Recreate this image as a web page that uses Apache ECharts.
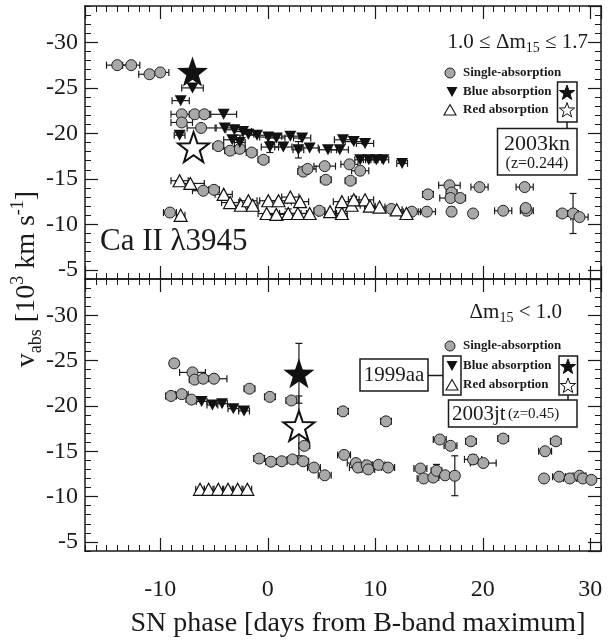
<!DOCTYPE html>
<html><head><meta charset="utf-8">
<script src="https://cdn.jsdelivr.net/npm/echarts@6/dist/echarts.min.js"></script>
<style>html,body{margin:0;padding:0;background:#fff}#c{width:611px;height:641px}</style>
</head><body><div id="c"></div>
<script>
// ---- data: [phase (days), v_abs (10^3 km/s), x error, y error] ----
const xRange = [-17, 31];
const yRange = [-34, -4];

const topSingle = [
  [-14.0,-27.5,1.0],[-12.7,-27.5,0.8],[-11.0,-26.5,1.0],[-10.0,-26.7,0.8],
  [-8.0,-22.1,1.0],[-6.8,-22.1,0.5],[-5.9,-22.1,0.5],[-8.0,-21.2,1.0],[-6.2,-20.6,1.3],
  [-4.6,-18.6,0.5],[-3.5,-18.1,0.5],[-2.6,-18.3,0.5],[-1.5,-17.9,0.5],[-0.4,-17.1,0.5],
  [3.3,-15.8,0.5],[3.7,-16.1,0.8],[5.3,-16.4,1.0],[5.4,-14.9,0.5],[7.6,-16.6,0.8],
  [7.7,-14.8,0.5],[8.6,-15.9,0.8],
  [-9.1,-11.3,0.6],[-6.0,-13.7,1.0],[-5.0,-13.8,0.5],[4.8,-11.5,0.5],
  [11.5,-11.7,0.5],[13.4,-11.4,0.8],[14.8,-11.4,0.8],[14.9,-13.3,0.5],
  [16.9,-14.3,1.0],[17.1,-13.5,0.5],[17.0,-12.9,1.0],[17.9,-12.9,0.5],[19.7,-14.1,0.8],
  [23.9,-14.1,0.8],[17.1,-11.4,0.3,0.5],[19.1,-11.2,0.4],[21.9,-11.5,0.8],[24.1,-11.5,0.6],
  [24.0,-11.8,0.4],[27.4,-11.2,0.5],[28.4,-11.2,0.5,2.2],[29.0,-10.8,0.8]
];
const topBlue = [
  [-7.0,-25.0,1.0],[-8.1,-23.6,0.8],[-4.1,-22.1,1.2],[-8.2,-19.8,0.5],
  [-4.0,-20.6,0.8],[-3.1,-20.4,0.8],[-2.3,-20.2,0.8],[-1.8,-19.9,0.5],[-3.3,-19.3,0.8],
  [-2.6,-19.0,0.5,0.8],[-1.0,-19.8,0.8],[0.05,-19.6,0.8],[0.8,-19.5,0.8],[2.1,-19.7,0.8],
  [3.2,-19.5,0.8],[0.2,-18.5,0.8,0.6],[1.45,-18.5,0.8],[2.85,-18.2,0.5,0.9],[3.9,-18.4,0.8],
  [5.6,-18.2,0.8],[6.7,-18.2,0.8],[7.0,-19.3,0.8],[8.0,-19.1,0.8],[9.05,-18.9,0.8],
  [8.6,-17.1,0.5],[9.4,-17.1,0.5],[10.1,-17.1,0.5],[10.75,-17.1,0.5],[12.5,-16.7,0.5]
];
const topRed = [
  [-8.2,-14.8,0.8],[-7.2,-14.5,1.3],[-8.1,-11.0,0.4],
  [-4.1,-13.3,0.8],[-3.5,-12.4,0.8],[-2.5,-12.1,0.8],[-1.8,-12.6,0.8],[-1.4,-12.1,0.5],
  [0.05,-12.6,0.8],[1.0,-12.6,0.8],[2.1,-13.0,0.8],[3.0,-12.5,0.8],
  [-0.1,-11.2,0.8],[0.8,-11.1,0.8],[1.9,-11.2,0.8,0.5],[2.8,-11.2,0.8],[3.9,-11.2,0.8],
  [5.8,-11.4,0.5],[6.9,-11.2,0.5],[6.9,-12.5,0.8],[7.8,-12.1,0.8],[8.0,-12.7,0.5,0.4],
  [9.05,-12.7,0.8],[9.5,-12.0,0.5],[10.4,-11.9,0.5],[12.0,-11.6,0.5],[12.9,-11.2,0.5]
];
const topStarBlue = [[-7.0,-26.8]];
const topStarRed = [[-6.9,-18.5]];

const botSingle = [
  [-8.7,-24.7,0.4],[-7.0,-23.7,1.2],[-6.8,-22.9,0.5],[-6.0,-23.0,0.5],[-5.0,-23.0,1.2],
  [-9.0,-21.1,0.5],[-8.0,-21.3,0.6],[-7.1,-20.7,0.5],[-1.7,-21.9,0.5],[0.2,-21.0,0.5],
  [2.2,-20.6,0.5],[-0.8,-14.2,0.5],[0.3,-13.85,0.5],[1.3,-13.9,0.5],[2.3,-14.1,0.5],
  [3.3,-13.9,0.5],[3.4,-15.6,0.5],[4.3,-13.2,0.6],[5.3,-12.35,0.6],[7.0,-19.4,0.5],
  [11.0,-18.3,0.5],[7.1,-14.6,0.6],[8.2,-13.7,0.8],[8.4,-13.2,0.8],[9.2,-13.45,0.6],
  [9.35,-13.0,0.6],[10.3,-13.5,0.6],[11.2,-13.2,0.6],[16.0,-16.3,0.6],[17.0,-15.6,0.6],
  [18.9,-16.1,0.5],[21.9,-16.4,0.5],[26.8,-16.1,0.5],[25.8,-15.0,0.6],[14.2,-13.1,0.6],
  [14.5,-12.0,0.6],[15.4,-12.1,0.5],[15.7,-12.85,0.5,0.7],[16.5,-12.35,0.5],[17.4,-12.3,0.4,2.2],
  [19.1,-14.1,0.8,0.5],[20.05,-13.7,1.2],[25.7,-12.0,0.4],[27.1,-12.2,0.6],[28.1,-12.0,0.6],
  [29.0,-12.3,0.6],[29.3,-12.0,0.4],[30.1,-11.85,0.4,0.3]
];
const botBlue = [[-6.15,-20.5,0.5],[-5.15,-20.1,0.5],[-4.25,-20.25,0.5],[-3.2,-19.7,0.5],[-2.2,-19.45,0.5]];
const botRed = [[-6.3,-10.8,0.4],[-5.5,-10.8,0.4],[-4.6,-10.8,0.4],[-3.7,-10.8,0.4],[-2.8,-10.8,0.4],[-1.9,-10.8,0.4]];
const botStarBlue = [[2.9,-23.6,0,3.3]];
const botStarRed = [[2.9,-17.8,0,3.3]];

// ---- styling / layout ----
const FONT = "'Liberation Serif','Times New Roman',serif";
const INK = '#1a1a1a';
const STAR = 'path://M0,-10L2.35,-3.24L9.51,-3.09L3.8,1.24L5.88,8.09L0,4L-5.88,8.09L-3.8,1.24L-9.51,-3.09L-2.35,-3.24Z';
const grids = [{left:85, top:6, width:516, height:273}, {left:85, top:279, width:516, height:272}];

function xAxesFor(gi, labels) {
  const base = {type:'value', gridIndex:gi, min:xRange[0], max:xRange[1], splitLine:{show:false}};
  const major = (pos, lab) => Object.assign({}, base, {position:pos,
    axisLine:{show:true, onZero:false, lineStyle:{color:INK, width:1.5}},
    axisTick:{show:true, inside:true, length:13, lineStyle:{color:INK, width:1.2}},
    axisLabel:{show:lab, showMinLabel:false, showMaxLabel:false, margin:27, fontFamily:FONT, fontSize:24, color:INK}});
  const minor = (pos) => Object.assign({}, base, {position:pos, interval:1,
    axisLine:{show:false, onZero:false}, axisTick:{show:true, inside:true, length:6, lineStyle:{color:INK, width:1}},
    axisLabel:{show:false}});
  return [major('bottom', labels), minor('bottom'), major('top', false), minor('top')];
}
function yAxesFor(gi) {
  const base = {type:'value', gridIndex:gi, min:yRange[0], max:yRange[1], inverse:true, splitLine:{show:false}};
  const major = (pos, lab) => Object.assign({}, base, {position:pos,
    axisLine:{show:true, onZero:false, lineStyle:{color:INK, width:1.5}},
    axisTick:{show:true, inside:true, length:13, lineStyle:{color:INK, width:1.2}},
    axisLabel:{show:lab, showMinLabel:false, showMaxLabel:false, margin:7, fontFamily:FONT, fontSize:24, color:INK}});
  const minor = (pos) => Object.assign({}, base, {position:pos, interval:1,
    axisLine:{show:false, onZero:false}, axisTick:{show:true, inside:true, length:6, lineStyle:{color:INK, width:1}},
    axisLabel:{show:false}});
  return [major('left', true), minor('left'), major('right', false), minor('right')];
}

function errSeries(data, gi) {
  return {type:'custom', xAxisIndex:gi*4, yAxisIndex:gi*4, silent:true, z:2,
    dimensions:['x','y','xe','ye'], encode:{x:0, y:1}, data:data,
    renderItem(params, api) {
      const x = api.value(0), y = api.value(1), xe = api.value(2), ye = api.value(3);
      const st = {stroke:INK, lineWidth:1.2, fill:null};
      const ch = [];
      const ln = (a,b,c,d) => ch.push({type:'line', shape:{x1:a,y1:b,x2:c,y2:d}, style:st});
      if (xe > 0) {
        const a = api.coord([x-xe, y]), b = api.coord([x+xe, y]);
        ln(a[0],a[1],b[0],b[1]); ln(a[0],a[1]-3.5,a[0],a[1]+3.5); ln(b[0],b[1]-3.5,b[0],b[1]+3.5);
      }
      if (ye > 0) {
        const a = api.coord([x, y-ye]), b = api.coord([x, y+ye]);
        ln(a[0],a[1],b[0],b[1]); ln(a[0]-3.5,a[1],a[0]+3.5,a[1]); ln(b[0]-3.5,b[1],b[0]+3.5,b[1]);
      }
      return {type:'group', children:ch};
    }};
}
function pts(data, gi, name, sym) {
  return Object.assign({type:'scatter', name:name, xAxisIndex:gi*4, yAxisIndex:gi*4, z:3,
    dimensions:['x','y','xe','ye'], encode:{x:0, y:1}, data:data, silent:true}, sym);
}
const SINGLE = {symbol:'circle', symbolSize:11, itemStyle:{color:'#a8a8a8', borderColor:'#222', borderWidth:1, opacity:1}};
const BLUE = {symbol:'triangle', symbolRotate:180, symbolSize:[12,11], itemStyle:{color:'#111', opacity:1}};
const RED = {symbol:'triangle', symbolSize:[13,12], itemStyle:{color:'#fff', borderColor:'#111', borderWidth:1.2, opacity:1}};
const SBLUE = {symbol:STAR, symbolSize:[31,30], z:5, itemStyle:{color:'#111', opacity:1}};
const SRED = {symbol:STAR, symbolSize:[31,30], z:5, itemStyle:{color:'#fff', borderColor:'#111', borderWidth:2, opacity:1}};

const series = [];
[[topSingle, topBlue, topRed, topStarBlue, topStarRed], [botSingle, botBlue, botRed, botStarBlue, botStarRed]].forEach((d, gi) => {
  series.push(errSeries([].concat(d[0], d[1], d[2], d[3], d[4]), gi));
  series.push(pts(d[0], gi, 'Single-absorption', SINGLE));
  series.push(pts(d[2], gi, 'Red absorption', RED));
  series.push(pts(d[1], gi, 'Blue absorption', BLUE));
  series.push(pts(d[3], gi, 'Blue absorption (high z)', SBLUE));
  series.push(pts(d[4], gi, 'Red absorption (high z)', SRED));
});

// ---- annotation graphics ----
function starPts(cx, cy, R) {
  const p = [];
  for (let i = 0; i < 10; i++) {
    const r = i % 2 ? R*0.4 : R, a = -Math.PI/2 + i*Math.PI/5;
    p.push([cx + r*Math.cos(a), cy + r*Math.sin(a)]);
  }
  return p;
}
const G = [];
const txt = (x, y, text, size, opt) => G.push(Object.assign({type:'text', x:x, y:y, silent:true,
  style:Object.assign({text:text, fontFamily:FONT, fontSize:size, fill:INK, align:'left', verticalAlign:'middle'}, opt||{})}));
const rect = (x, y, w, h) => G.push({type:'rect', silent:true, shape:{x:x, y:y, width:w, height:h}, style:{fill:'#fff', stroke:INK, lineWidth:1.5}});
const line = (x1, y1, x2, y2) => G.push({type:'line', silent:true, shape:{x1:x1,y1:y1,x2:x2,y2:y2}, style:{stroke:INK, lineWidth:1.5}});
const legendCircle = (x, y) => G.push({type:'circle', silent:true, shape:{cx:x, cy:y, r:5}, style:{fill:'#a8a8a8', stroke:'#222', lineWidth:1}});
const triDown = (x, y) => G.push({type:'polygon', silent:true, shape:{points:[[x-5.5,y-5],[x+5.5,y-5],[x,y+5]]}, style:{fill:'#111'}});
const triUp = (x, y) => G.push({type:'polygon', silent:true, shape:{points:[[x-6,y+5],[x+6,y+5],[x,y-5.5]]}, style:{fill:'#fff', stroke:'#111', lineWidth:1.1}});
const star = (x, y, R, filled) => G.push({type:'polygon', silent:true, shape:{points:starPts(x, y, R)}, style:{fill:filled?'#111':'#fff', stroke:'#111', lineWidth:1}});
const richDm = {a:{fontFamily:FONT, fontSize:21, lineHeight:26, fill:INK}, s:{fontFamily:FONT, fontSize:14, lineHeight:14, verticalAlign:'bottom', fill:INK}};

// top panel
txt(588, 42, '{a|1.0 ≤ Δm}{s|15}{a| ≤ 1.7}', 21, {align:'right', rich:richDm});
legendCircle(450, 73); txt(463, 73, 'Single-absorption', 13, {fontWeight:'bold'});
triDown(452, 92); txt(463, 92, 'Blue absorption', 13, {fontWeight:'bold'});
triUp(450, 110); txt(463, 110, 'Red absorption', 13, {fontWeight:'bold'});
rect(557.5, 82, 19.5, 40); star(567, 93, 8, true); star(567, 110.5, 8, false);
line(567, 122, 567, 128.5);
rect(497.5, 128.5, 79.5, 46.5);
txt(537, 144, '2003kn', 22, {align:'center'});
txt(537, 164, '(z=0.244)', 16, {align:'center'});
txt(100, 242, 'Ca II λ3945', 31);

// bottom panel
txt(562, 312, '{a|Δm}{s|15}{a| < 1.0}', 21, {align:'right', rich:richDm});
legendCircle(450, 346); txt(463, 346, 'Single-absorption', 13, {fontWeight:'bold'});
rect(443, 356, 18, 39); triDown(452, 366); triUp(452, 385);
txt(463, 366, 'Blue absorption', 13, {fontWeight:'bold'});
txt(463, 385, 'Red absorption', 13, {fontWeight:'bold'});
rect(360, 359, 68, 32); txt(394, 375.5, '1999aa', 21, {align:'center'});
line(428, 375.5, 443, 375.5);
rect(559, 356, 18.5, 39); star(568, 367, 8, true); star(568, 386, 8, false);
line(568, 395, 568, 400);
rect(448.5, 400, 128.5, 27);
txt(452, 414, '2003jt', 21);
txt(508, 414, '(z=0.45)', 15);

// axis titles
G.push({type:'text', x:27, y:279, rotation:Math.PI/2, silent:true, style:{
  text:'{a|v}{b|abs}{a| [10}{c|3}{a| km s}{c|-1}{a|]}', align:'center', verticalAlign:'middle',
  rich:{a:{fontFamily:FONT, fontSize:28, lineHeight:36, fill:INK},
        b:{fontFamily:FONT, fontSize:18, lineHeight:18, verticalAlign:'bottom', fill:INK},
        c:{fontFamily:FONT, fontSize:18, lineHeight:18, verticalAlign:'top', fill:INK}}}});
txt(358, 624, 'SN phase [days from B-band maximum]', 28, {align:'center'});

const chart = echarts.init(document.getElementById('c'), null, {renderer:'canvas'});
chart.setOption({
  animation:false,
  backgroundColor:'#fff',
  grid:grids,
  xAxis:[].concat(xAxesFor(0, false), xAxesFor(1, true)),
  yAxis:[].concat(yAxesFor(0), yAxesFor(1)),
  series:series,
  graphic:G
});
</script></body></html>
